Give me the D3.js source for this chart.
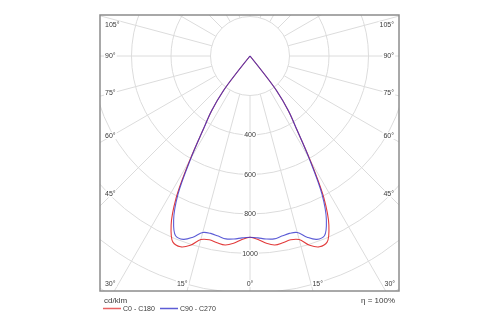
<!DOCTYPE html>
<html>
<head>
<meta charset="utf-8">
<script src="https://cdn.jsdelivr.net/npm/d3@7"></script>
<style>
  body { margin: 0; background: #fff; }
  svg { will-change: transform; }
  text { font-family: "Liberation Sans", Arial, sans-serif; fill: #3a3a3a; }
</style>
</head>
<body>
<svg id="chart" width="500" height="325"></svg>
<script>
// Gamma angles (degrees from nadir) and luminous intensity in cd/klm.
// Intensity is zero beyond the last angle (cut-off).
const gammaAngles = [0, 2.5, 5, 7.5, 10, 12.5, 15, 17.5, 20, 22.5, 25, 27.5, 30, 32.5, 35, 37.5, 40];
const c0c180  = [918, 930, 952, 965, 960, 953, 962, 1005, 1028, 1020, 945, 810, 610, 440, 340, 220, 0];
const c90c270 = [918, 922, 930, 934, 926, 920, 925, 962, 988, 985, 915, 790, 600, 440, 340, 220, 0];

const seriesNames = ["C0 - C180", "C90 - C270"];
const seriesColors = ["#e23b3b", "#3434cc"];

const ringValues = [200, 400, 600, 800, 1000, 1200, 1400];
const ringLabels = [400, 600, 800, 1000];
const spokeAngles = d3.range(0, 360, 15);
const sideAngleLabels = [45, 60, 75, 90, 105];
const bottomAngleLabels = [0, 15, 30];
const unitLabel = "cd/klm";
const efficiencyLabel = "η = 100%";

const svg = d3.select("#chart");
const frame = { left: 100, top: 15, right: 399, bottom: 291 };
const cx = 250, cy = 56;
const r = d3.scaleLinear().domain([0, 1000]).range([0, 197.5]);
const rad = d => d * Math.PI / 180;

svg.append("defs").append("clipPath").attr("id", "plotClip")
  .append("rect")
  .attr("x", frame.left).attr("y", frame.top)
  .attr("width", frame.right - frame.left).attr("height", frame.bottom - frame.top);

const plot = svg.append("g").attr("clip-path", "url(#plotClip)");
const center = plot.append("g").attr("transform", `translate(${cx},${cy})`);

// a text label sitting on a white patch that masks the grid behind it
function boxedText(parent, x, y, anchor, str, dy) {
  const g = parent.append("g");
  const bg = g.append("rect").attr("fill", "#fff");
  const t = g.append("text")
    .attr("x", x).attr("y", y)
    .attr("dy", dy)
    .attr("text-anchor", anchor)
    .attr("font-size", 7)
    .text(str);
  const b = t.node().getBBox();
  bg.attr("x", b.x - 1).attr("y", b.y).attr("width", b.width + 2).attr("height", b.height);
  return t;
}

// grid: concentric rings
center.selectAll("circle.ring").data(ringValues).join("circle")
  .attr("class", "ring")
  .attr("r", d => r(d))
  .attr("fill", "none").attr("stroke", "#dcdcdc").attr("stroke-width", 1);

// grid: spokes every 15°, starting at the innermost ring
center.selectAll("line.spoke").data(spokeAngles).join("line")
  .attr("class", "spoke")
  .attr("x1", d => r(ringValues[0]) * Math.sin(rad(d)))
  .attr("y1", d => r(ringValues[0]) * Math.cos(rad(d)))
  .attr("x2", d => r(1600) * Math.sin(rad(d)))
  .attr("y2", d => r(1600) * Math.cos(rad(d)))
  .attr("stroke", "#dcdcdc").attr("stroke-width", 1);

// ring value labels along the nadir axis
ringLabels.forEach(v => boxedText(center, 0, r(v), "middle", v, "0.35em"));

// intensity curves: left half (C180 / C270) then right half (C0 / C90)
function curvePoints(values) {
  const pts = [];
  for (let i = gammaAngles.length - 1; i >= 0; i--) pts.push({ a: Math.PI + rad(gammaAngles[i]), v: values[i] });
  for (let i = 1; i < gammaAngles.length; i++) pts.push({ a: Math.PI - rad(gammaAngles[i]), v: values[i] });
  return pts;
}
const radial = d3.lineRadial()
  .angle(d => d.a)
  .radius(d => r(d.v))
  .curve(d3.curveCatmullRom.alpha(0.5));

[c0c180, c90c270].forEach((vals, i) => {
  center.append("path")
    .attr("d", radial(curvePoints(vals)))
    .attr("fill", "none")
    .attr("stroke", seriesColors[i])
    .attr("stroke-opacity", i === 1 ? 0.8 : 1)
    .attr("stroke-width", 1.1);
});

// angle labels on the sides
const labels = svg.append("g");
sideAngleLabels.forEach(a => {
  let y = cy + 138 / Math.tan(rad(a));
  if (Math.abs(a - 90) < 1e-6) y = cy;
  y = Math.max(y, frame.top + 10);
  [-1, 1].forEach(side => {
    boxedText(labels, side < 0 ? frame.left + 5 : frame.right - 5, y,
      side < 0 ? "start" : "end", a + "°", "0.35em");
  });
});

// angle labels along the bottom
bottomAngleLabels.forEach(a => {
  const dx = 233 * Math.tan(rad(a));
  const sides = a === 0 ? [0] : [-1, 1];
  sides.forEach(side => {
    boxedText(labels, cx + side * dx, 286,
      side === 0 ? "middle" : (side < 0 ? "end" : "start"), a + "°", 0);
  });
});

// frame
svg.append("rect")
  .attr("x", frame.left).attr("y", frame.top)
  .attr("width", frame.right - frame.left).attr("height", frame.bottom - frame.top)
  .attr("fill", "none").attr("stroke", "#8c8c8c").attr("stroke-width", 1.5);

// unit, efficiency and legend
svg.append("text").attr("x", 104).attr("y", 303).attr("font-size", 8).text(unitLabel);
svg.append("text").attr("x", 395).attr("y", 303).attr("font-size", 8)
  .attr("text-anchor", "end").text(efficiencyLabel);

const legendX = [103, 160];
seriesNames.forEach((name, i) => {
  const g = svg.append("g").attr("transform", `translate(${legendX[i]},308.5)`);
  g.append("line").attr("x1", 0).attr("x2", 18).attr("y1", 0).attr("y2", 0)
    .attr("stroke", seriesColors[i]).attr("stroke-opacity", 0.8).attr("stroke-width", 1.5);
  g.append("text").attr("x", 20).attr("y", 2.5).attr("font-size", 7).text(name);
});
</script>
</body>
</html>
